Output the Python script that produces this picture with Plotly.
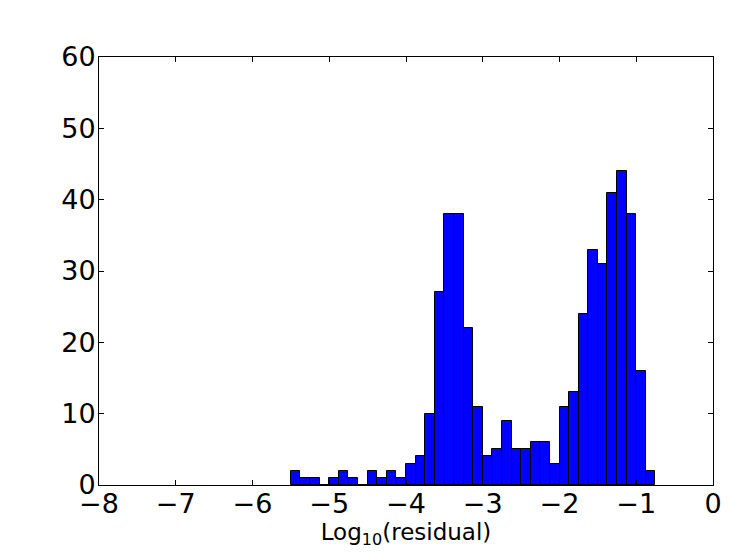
import plotly.graph_objects as go

# Histogram of log10(residual): bins start at -5.5, width 0.125
bin_start = -5.5
bin_width = 0.125
counts = [2, 1, 1, 0, 1, 2, 1, 0, 2, 1, 2, 1, 3, 4, 10, 27, 38, 38, 22, 11,
          4, 5, 9, 5, 5, 6, 6, 3, 11, 13, 24, 33, 31, 41, 44, 38, 16, 2]
x_ticks = [-8, -7, -6, -5, -4, -3, -2, -1, 0]
y_ticks = [0, 10, 20, 30, 40, 50, 60]

centers = [bin_start + bin_width * (i + 0.5) for i in range(len(counts))]

fig = go.Figure()
fig.add_trace(go.Bar(
    x=centers, y=counts, width=bin_width,
    marker=dict(color="#0000ff", line=dict(color="black", width=1)),
))

axis_common = dict(
    showline=True, linecolor="black", linewidth=1, mirror="ticks",
    ticks="inside", ticklen=5, tickcolor="black", tickwidth=1,
    showgrid=False, zeroline=False, automargin=False,
    tickfont=dict(family="DejaVu Sans", size=27, color="black"),
)

fig.update_layout(
    width=747, height=554,
    margin=dict(l=91, r=42, t=49, b=77),
    plot_bgcolor="white", paper_bgcolor="white",
    showlegend=False, bargap=0,
    xaxis=dict(range=[-8, 0], tickvals=x_ticks, ticklabelstandoff=-5,
               title=dict(text="Log<sub>10</sub>(residual)",
                          font=dict(family="DejaVu Sans", size=23, color="black"),
                          standoff=0),
               **axis_common),
    yaxis=dict(range=[0, 60], tickvals=y_ticks, ticklabelstandoff=-3,
               **axis_common),
)

fig.write_html("out.html")
